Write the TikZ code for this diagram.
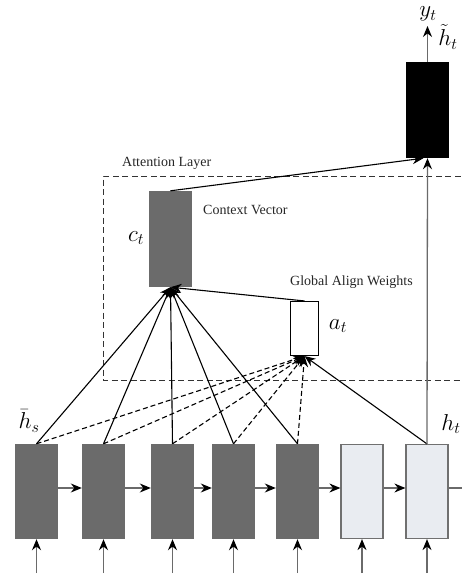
\RequirePackage{fix-cm}
\documentclass[tikz,border=0pt]{standalone}
\usepackage{fontspec}
\setmainfont{Liberation Serif}
\usetikzlibrary{arrows.meta}
\definecolor{darkbox}{HTML}{6B6B6B}
\definecolor{lightbox}{HTML}{E9ECF1}
\definecolor{lightedge}{HTML}{707070}
\definecolor{inline}{HTML}{6A6A6A}
\begin{document}
\begin{tikzpicture}[x=1pt,y=-1pt,
  tip/.style={-{Stealth[length=11pt,width=9pt,color=black]}},
  rnn/.style={draw=none,fill=darkbox,minimum width=43pt,minimum height=95pt,inner sep=0pt},
  rnnlight/.style={draw=lightedge,line width=1.2pt,fill=lightbox,minimum width=42pt,minimum height=94pt,inner sep=0pt},
  inarrow/.style={tip,draw=inline,line width=1.3pt},
  attline/.style={tip,draw=black,line width=1.1pt},
  dashline/.style={tip,draw=black,line width=1.1pt,dash pattern=on 5pt off 3pt},
  lbl/.style={font=\fontsize{23}{25}\selectfont,inner sep=0pt},
  txt/.style={font=\fontsize{14}{16}\selectfont,inner sep=0pt,anchor=west,text=black!85}
]
\useasboundingbox (0,0) rectangle (461,578);
% attention layer box
\draw[black!80,line width=1pt,dash pattern=on 6pt off 3.5pt] (470,176) -- (103,176) -- (103,380) -- (470,380);
\node[txt] (attl) at (122,163) {Attention Layer};
% encoder/decoder boxes
\node[rnn] (b1) at (36.5,491.5) {};
\node[rnn] (b2) at (103.5,491.5) {};
\node[rnn] (b3) at (172.5,491.5) {};
\node[rnn] (b4) at (233.5,491.5) {};
\node[rnn] (b5) at (297.5,491.5) {};
\node[rnnlight] (b6) at (362,491.5) {};
\node[rnnlight] (b7) at (427,491.5) {};
\coordinate (bend) at (475,488);
% horizontal arrows
\foreach \a/\b in {b1/b2,b2/b3,b3/b4,b4/b5,b5/b6,b6/b7}{
  \draw[inarrow] (\a.east |- 0,488) -- (\b.west |- 0,488);
}
\draw[inarrow] (b7.east |- 0,488) -- (bend);
% input arrows
\foreach \i in {1,...,7}{
  \coordinate (in\i) at (b\i.south |- 0,573);
  \draw[inarrow] (in\i) -- (b\i.south);
}
% context vector, align weights, output
\node[rnn,minimum height=96pt] (ct) at (170.5,239) {};
\node[draw=black,line width=1.1pt,fill=white,minimum width=28pt,minimum height=54pt,inner sep=0pt] (at) at (304.5,328.5) {};
\node[draw=none,fill=black,minimum width=43pt,minimum height=96pt,inner sep=0pt] (ht) at (427.5,110) {};
\coordinate (yt) at (427.5,26);
% connectors
\foreach \i in {1,...,5}{
  \draw[attline] (b\i.north) -- (ct.south);
  \draw[dashline] (b\i.north) -- (at.south);
}
\draw[attline] (b7.north) -- (at.south);
\draw[attline] (at.north) -- (ct.south);
\draw[attline] (ct.north) -- ([xshift=-4pt]ht.south);
\draw[inarrow] (b7.north) -- (ht.south);
\draw[inarrow] (ht.north) -- (yt);
% labels
\node[txt] (cvl) at (203,210) {Context Vector};
\node[txt] (gaw) at (290,282) {Global Align Weights};
\node[lbl] (ctl) at (136,238) {$c_t$};
\node[lbl] (atl) at (338,326) {$a_t$};
\node[lbl] (ytl) at (428,14) {$y_t$};
\node[lbl] (htl) at (448,37) {$\tilde{h}_t$};
\node[lbl] (hsl) at (29,421) {$\bar{h}_s$};
\node[lbl] (hbl) at (451,424) {$h_t$};
\end{tikzpicture}
\end{document}
